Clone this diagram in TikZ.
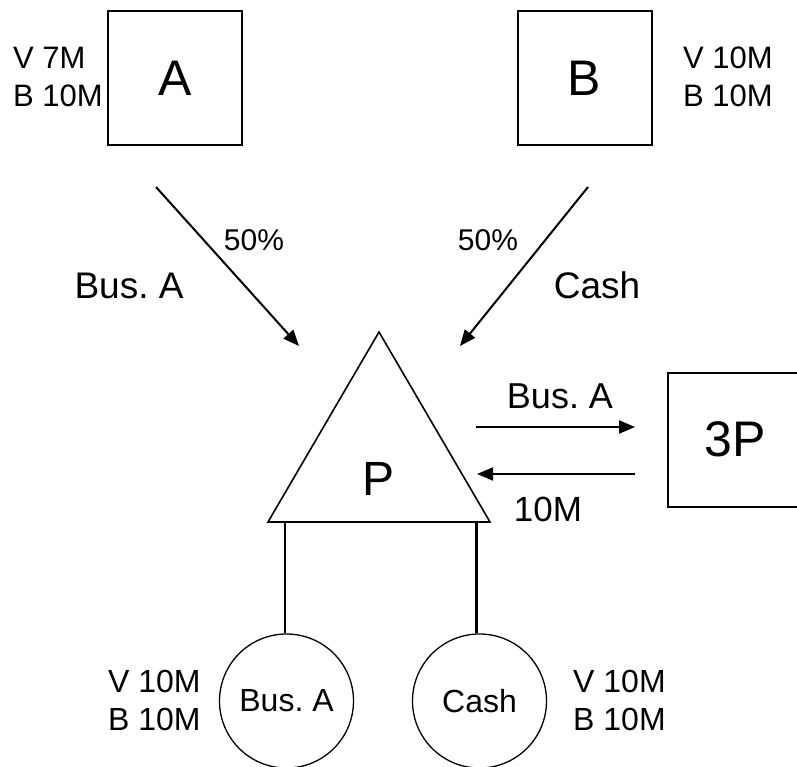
\documentclass[tikz,border=0pt]{standalone}
\usepackage{fontspec}
\setmainfont{Liberation Sans}
\usetikzlibrary{arrows.meta}
\frenchspacing
\begin{document}
\begin{tikzpicture}[x=1pt,y=-1pt,
  party/.style={draw,line width=2pt,minimum width=134pt,minimum height=134pt,inner sep=0pt,font=\fontsize{50}{50}\selectfont},
  acct/.style={draw,circle,line width=1.3pt,minimum size=134pt,inner sep=0pt,font=\fontsize{32}{32}\selectfont},
  val/.style={align=left,anchor=west,inner sep=0pt,font=\fontsize{31}{38}\selectfont},
  lbl/.style={inner sep=0pt,font=\fontsize{37}{37}\selectfont},
  pct/.style={inner sep=0pt,font=\fontsize{30}{30}\selectfont},
  flow/.style={line width=2pt,-{Triangle[length=16pt,width=13pt]}},
  tie/.style={line width=2.2pt}]
\useasboundingbox (0,0) rectangle (797,767);
\clip (0,0) rectangle (797,767);

% parties
\node[party] (A) at (175,78) {A};
\node[party] (B) at (584.5,78) {B};
\node[party] (TP) at (735,439.5) {3P};

% value / book figures
\node[val] (valA) at (13,76.5) {V 7M\\B 10M};
\node[val] (valB) at (683,76.5) {V 10M\\B 10M};

% parent triangle
\coordinate (apex) at (379,332);
\coordinate (baseR) at (490,522);
\coordinate (baseL) at (268,522);
\draw[line width=1.6pt,line join=miter] (apex) -- (baseR) -- (baseL) -- cycle;
\node[inner sep=0pt,font=\fontsize{48}{48}\selectfont] (P) at (379,479) {P};

% contributions into P
\coordinate (a1) at (156,187);
\coordinate (a2) at (299,346);
\draw[flow] (a1) -- (a2);
\coordinate (b1) at (588,187);
\coordinate (b2) at (460,346);
\draw[flow] (b1) -- (b2);
\node[pct] (pA) at (254,240) {50\%};
\node[pct] (pB) at (488,240) {50\%};
\node[lbl] (lA) at (129,286) {Bus. A};
\node[lbl] (lB) at (597,285) {Cash};

% exchange with third party
\coordinate (c1) at (476,427);
\coordinate (c2) at (635,427);
\draw[flow] (c1) -- (c2);
\coordinate (d1) at (635,474);
\coordinate (d2) at (477,474);
\draw[flow] (d1) -- (d2);
\node[lbl,font=\fontsize{36}{36}\selectfont] (lC) at (560,396) {Bus. A};
\node[lbl,font=\fontsize{35}{35}\selectfont] (lD) at (548,509) {10M};

% subsidiaries
\node[acct] (busc) at (286.5,701) {Bus. A};
\node[acct] (cashc) at (479.5,701) {Cash};
\coordinate (t1) at (285,522);
\coordinate (t2) at (476.5,522);
\draw[tie] (t1) -- (t1 |- busc.north);
\draw[tie] (t2) -- (t2 |- cashc.north);
\node[val,font=\fontsize{32}{38}\selectfont] (valC) at (108,700) {V 10M\\B 10M};
\node[val,font=\fontsize{32}{38}\selectfont] (valD) at (573,700) {V 10M\\B 10M};
\end{tikzpicture}
\end{document}
